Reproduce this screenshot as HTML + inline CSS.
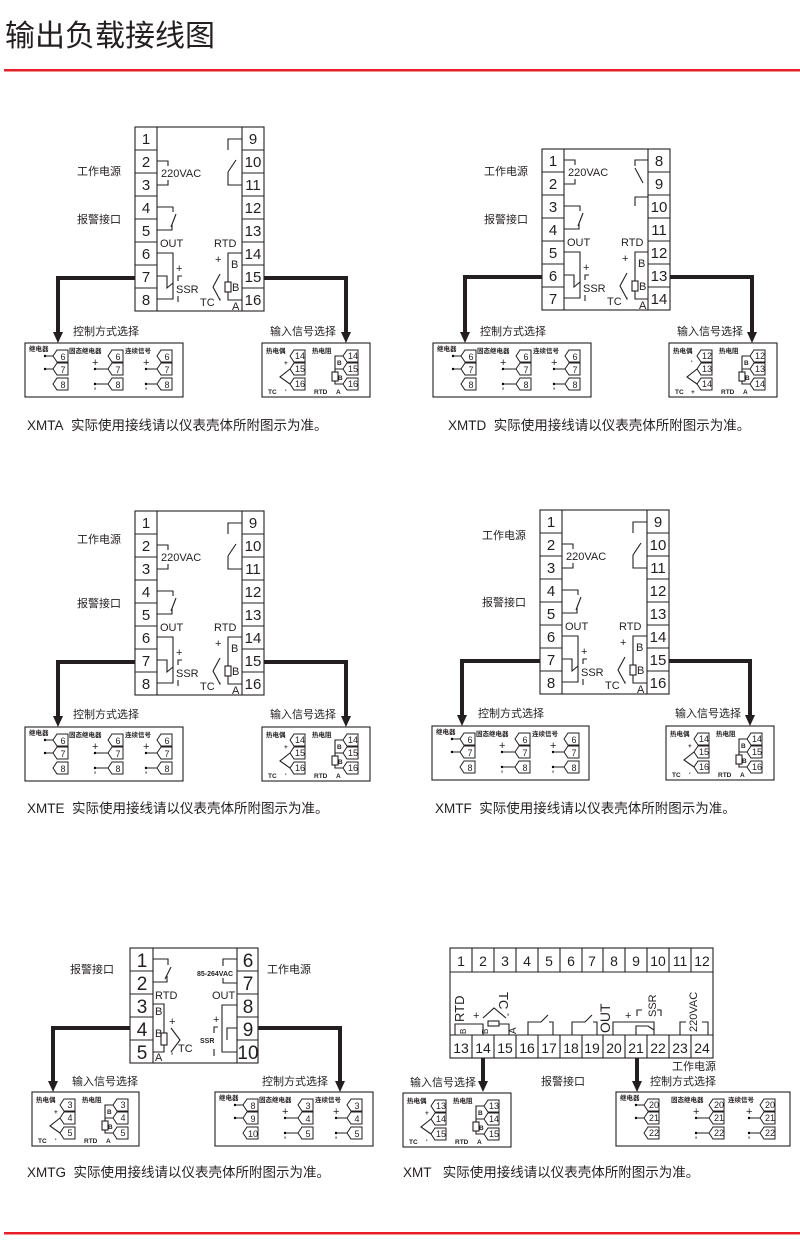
<!DOCTYPE html>
<html><head><meta charset="utf-8"><style>
html,body{margin:0;padding:0;background:#fff;}
svg{display:block;}
text{font-family:"Liberation Sans","Noto Sans CJK SC",sans-serif;fill:#231f20;}
.n{font-size:15px;text-anchor:middle;}
.nb{font-size:19px;text-anchor:middle;}
.l{font-size:11px;}
.c{font-size:11px;font-weight:bold;}
.s{font-size:6.5px;font-weight:bold;}
.t{font-size:9px;text-anchor:middle;}
.cap{font-size:13.5px;}
.w{fill:none;stroke:#231f20;stroke-width:1.1;}
.k{fill:none;stroke:#231f20;stroke-width:4;}
.b{fill:#fff;stroke:#231f20;stroke-width:1.1;}
</style></head><body>
<svg width="800" height="1247" viewBox="0 0 800 1247" xmlns="http://www.w3.org/2000/svg">
<defs>
<polygon id="tag" points="0,0 4,-6 15,-6 15,6 4,6" fill="#fff" stroke="#231f20" stroke-width="1"/>
<polygon id="arr" points="-5,-11 5,-11 0,0" fill="#231f20"/>
</defs>
<text x="5" y="46" style="font-size:30px">输出负载接线图</text>
<rect x="4" y="69" width="796" height="2.5" fill="#e8202a"/>
<rect x="4" y="1232" width="796" height="2.5" fill="#e8202a"/>

<!-- ===== PANEL A (XMTA) ===== -->
<g id="pA">
<rect class="w" x="135" y="127" width="129" height="184"/>
<path class="w" d="M157,127V311M242,127V311M135,150H157M135,173H157M135,196H157M135,219H157M135,242H157M135,265H157M135,288H157M242,150H264M242,173H264M242,196H264M242,219H264M242,242H264M242,265H264M242,288H264"/>
<text class="n" x="146" y="144">1</text><text class="n" x="146" y="167">2</text><text class="n" x="146" y="190">3</text><text class="n" x="146" y="213">4</text><text class="n" x="146" y="236">5</text><text class="n" x="146" y="259">6</text><text class="n" x="146" y="282">7</text><text class="n" x="146" y="305">8</text>
<text class="n" x="253" y="144">9</text><text class="n" x="253" y="167">10</text><text class="n" x="253" y="190">11</text><text class="n" x="253" y="213">12</text><text class="n" x="253" y="236">13</text><text class="n" x="253" y="259">14</text><text class="n" x="253" y="282">15</text><text class="n" x="253" y="305">16</text>
<path class="w" d="M157,161H168V166M168,180V185H157"/>
<text class="l" x="161" y="177">220VAC</text>
<path class="w" d="M157,207H173V212M176,214L171,227M157,230H172V224"/>
<text class="l" x="160" y="247">OUT</text>
<path class="w" d="M157,253H173V299H157M157,276H167V288L173,283"/>
<text class="l" x="176" y="272">+</text>
<path class="w" d="M182,276H178V281M178,296V302"/>
<text class="l" x="176" y="293">SSR</text>
<path class="w" d="M242,139H228V150M228,172L236,160M228,172V185H242"/>
<text class="l" x="214" y="247">RTD</text>
<path class="w" d="M242,253H228V300H242"/>
<rect class="b" x="225" y="282" width="6" height="10"/>
<text class="l" x="231" y="268">B</text><text class="l" x="232" y="291">B</text><text class="l" x="232" y="310">A</text>
<text class="l" x="215" y="263">+</text>
<path class="w" d="M220,274L213,287L220,300"/>
<text class="l" x="200" y="306">TC</text><text class="l" x="219" y="306">'</text>
</g>
<path class="k" d="M135,278H58V335M264,278H346V335"/>
<use href="#arr" x="58" y="343"/><use href="#arr" x="346" y="343"/>
<text class="l" x="77" y="175">工作电源</text><text class="l" x="77" y="223">报警接口</text>
<text class="l" x="73" y="335">控制方式选择</text><text class="l" x="270" y="335">输入信号选择</text>
<g transform="translate(25,343)">
<rect class="w" x="0" y="0" width="158" height="54"/>
<text class="s" x="4" y="8">继电器</text><text class="s" x="44" y="10">固态继电器</text><text class="s" x="100" y="10">连续信号</text>
<path class="w" d="M20,13H28M20,26H28M70,26H83M70,41H83M121,26H132M121,41H132"/>
<circle cx="20" cy="13" r="1.2"/><circle cx="20" cy="26" r="1.2"/><circle cx="70" cy="26" r="1.2"/><circle cx="70" cy="41" r="1.2"/><circle cx="121" cy="26" r="1.2"/><circle cx="121" cy="41" r="1.2"/>
<text class="l" x="67" y="23">+</text><text class="l" x="118" y="23">+</text><text class="l" x="69" y="52">'</text><text class="l" x="120" y="52">'</text>
<use href="#tag" x="28" y="13"/><use href="#tag" x="28" y="26"/><use href="#tag" x="28" y="41"/>
<use href="#tag" x="83" y="13"/><use href="#tag" x="83" y="26"/><use href="#tag" x="83" y="41"/>
<use href="#tag" x="132" y="13"/><use href="#tag" x="132" y="26"/><use href="#tag" x="132" y="41"/>
<text class="t" x="38" y="17">6</text><text class="t" x="38" y="30">7</text><text class="t" x="38" y="45">8</text>
<text class="t" x="93" y="17">6</text><text class="t" x="93" y="30">7</text><text class="t" x="93" y="45">8</text>
<text class="t" x="142" y="17">6</text><text class="t" x="142" y="30">7</text><text class="t" x="142" y="45">8</text>
</g>
<g transform="translate(262,343)">
<rect class="w" x="0" y="0" width="108" height="54"/>
<text class="s" x="4" y="10">热电偶</text><text class="s" x="50" y="10">热电阻</text>
<path class="w" d="M28,26L18,34L28,41M81,13H73V41H81M73,26H81"/>
<rect class="b" x="70" y="29" width="6" height="9"/>
<text class="s" x="22" y="22">+</text><text class="s" x="6" y="51">TC</text><text class="s" x="23" y="51">'</text>
<text class="s" x="75" y="22">B</text><text class="s" x="76" y="37">B</text><text class="s" x="52" y="51">RTD</text><text class="s" x="74" y="51">A</text>
<use href="#tag" x="28" y="13"/><use href="#tag" x="28" y="26"/><use href="#tag" x="28" y="41"/>
<use href="#tag" x="81" y="13"/><use href="#tag" x="81" y="26"/><use href="#tag" x="81" y="41"/>
<text class="t" x="38" y="16">14</text><text class="t" x="38" y="29">15</text><text class="t" x="38" y="44">16</text>
<text class="t" x="91" y="16">14</text><text class="t" x="91" y="29">15</text><text class="t" x="91" y="44">16</text>
</g>
<text class="cap" x="27" y="430">XMTA&#160;&#160;实际使用接线请以仪表壳体所附图示为准。</text>

<!-- ===== PANEL B (XMTD) ===== -->
<rect class="w" x="542" y="149" width="128" height="161"/>
<path class="w" d="M564,149V310M648,149V310M542,172H564M542,195H564M542,218H564M542,241H564M542,264H564M542,287H564M648,172H670M648,195H670M648,218H670M648,241H670M648,264H670M648,287H670"/>
<text class="n" x="553" y="166">1</text><text class="n" x="553" y="189">2</text><text class="n" x="553" y="212">3</text><text class="n" x="553" y="235">4</text><text class="n" x="553" y="258">5</text><text class="n" x="553" y="281">6</text><text class="n" x="553" y="304">7</text>
<text class="n" x="659" y="166">8</text><text class="n" x="659" y="189">9</text><text class="n" x="659" y="212">10</text><text class="n" x="659" y="235">11</text><text class="n" x="659" y="258">12</text><text class="n" x="659" y="281">13</text><text class="n" x="659" y="304">14</text>
<g transform="translate(407,-1)">
<path class="w" d="M157,161H168V166M168,180V185H157"/>
<text class="l" x="161" y="177">220VAC</text>
<path class="w" d="M157,207H173V212M176,214L171,227M157,230H172V224"/>
<text class="l" x="160" y="247">OUT</text>
<path class="w" d="M157,253H173V299H157M157,276H167V288L173,283"/>
<text class="l" x="176" y="272">+</text>
<path class="w" d="M182,276H178V281M178,296V302"/>
<text class="l" x="176" y="293">SSR</text>
<text class="l" x="214" y="247">RTD</text>
<path class="w" d="M241,253H228V300H241"/>
<rect class="b" x="225" y="282" width="6" height="10"/>
<text class="l" x="231" y="268">B</text><text class="l" x="232" y="291">B</text><text class="l" x="232" y="310">A</text>
<text class="l" x="215" y="263">+</text>
<path class="w" d="M220,274L213,287L220,300"/>
<text class="l" x="200" y="306">TC</text><text class="l" x="219" y="306">'</text>
</g>
<path class="w" d="M648,160H635V166M635,168L643,183M648,197H635V206"/>
<path class="k" d="M542,277H465V335M670,277H752V335"/>
<use href="#arr" x="465" y="343"/><use href="#arr" x="752" y="343"/>
<text class="l" x="484" y="175">工作电源</text><text class="l" x="484" y="223">报警接口</text>
<text class="l" x="480" y="335">控制方式选择</text><text class="l" x="677" y="335">输入信号选择</text>
<g transform="translate(433,343)">
<rect class="w" x="0" y="0" width="158" height="54"/>
<text class="s" x="4" y="8">继电器</text><text class="s" x="44" y="10">固态继电器</text><text class="s" x="100" y="10">连续信号</text>
<path class="w" d="M20,13H28M20,26H28M70,26H83M70,41H83M121,26H132M121,41H132"/>
<circle cx="20" cy="13" r="1.2"/><circle cx="20" cy="26" r="1.2"/><circle cx="70" cy="26" r="1.2"/><circle cx="70" cy="41" r="1.2"/><circle cx="121" cy="26" r="1.2"/><circle cx="121" cy="41" r="1.2"/>
<text class="l" x="67" y="23">+</text><text class="l" x="118" y="23">+</text><text class="l" x="69" y="52">'</text><text class="l" x="120" y="52">'</text>
<use href="#tag" x="28" y="13"/><use href="#tag" x="28" y="26"/><use href="#tag" x="28" y="41"/>
<use href="#tag" x="83" y="13"/><use href="#tag" x="83" y="26"/><use href="#tag" x="83" y="41"/>
<use href="#tag" x="132" y="13"/><use href="#tag" x="132" y="26"/><use href="#tag" x="132" y="41"/>
<text class="t" x="38" y="17">6</text><text class="t" x="38" y="30">7</text><text class="t" x="38" y="45">8</text>
<text class="t" x="93" y="17">6</text><text class="t" x="93" y="30">7</text><text class="t" x="93" y="45">8</text>
<text class="t" x="142" y="17">6</text><text class="t" x="142" y="30">7</text><text class="t" x="142" y="45">8</text>
</g>
<g transform="translate(669,343)">
<rect class="w" x="0" y="0" width="108" height="54"/>
<text class="s" x="4" y="10">热电偶</text><text class="s" x="50" y="10">热电阻</text>
<path class="w" d="M28,26L18,34L28,41M81,13H73V41H81M73,26H81"/>
<rect class="b" x="70" y="29" width="6" height="9"/>
<text class="s" x="22" y="22">'</text><text class="s" x="6" y="51">TC</text><text class="s" x="22" y="51">+</text>
<text class="s" x="75" y="22">B</text><text class="s" x="76" y="37">B</text><text class="s" x="52" y="51">RTD</text><text class="s" x="74" y="51">A</text>
<use href="#tag" x="28" y="13"/><use href="#tag" x="28" y="26"/><use href="#tag" x="28" y="41"/>
<use href="#tag" x="81" y="13"/><use href="#tag" x="81" y="26"/><use href="#tag" x="81" y="41"/>
<text class="t" x="38" y="16">12</text><text class="t" x="38" y="29">13</text><text class="t" x="38" y="44">14</text>
<text class="t" x="91" y="16">12</text><text class="t" x="91" y="29">13</text><text class="t" x="91" y="44">14</text>
</g>
<text class="cap" x="448" y="430">XMTD&#160;&#160;实际使用接线请以仪表壳体所附图示为准。</text>

<!-- ===== PANEL C (XMTE) ===== -->
<g transform="translate(0,384)">
<rect class="w" x="135" y="127" width="129" height="184"/>
<path class="w" d="M157,127V311M242,127V311M135,150H157M135,173H157M135,196H157M135,219H157M135,242H157M135,265H157M135,288H157M242,150H264M242,173H264M242,196H264M242,219H264M242,242H264M242,265H264M242,288H264"/>
<text class="n" x="146" y="144">1</text><text class="n" x="146" y="167">2</text><text class="n" x="146" y="190">3</text><text class="n" x="146" y="213">4</text><text class="n" x="146" y="236">5</text><text class="n" x="146" y="259">6</text><text class="n" x="146" y="282">7</text><text class="n" x="146" y="305">8</text>
<text class="n" x="253" y="144">9</text><text class="n" x="253" y="167">10</text><text class="n" x="253" y="190">11</text><text class="n" x="253" y="213">12</text><text class="n" x="253" y="236">13</text><text class="n" x="253" y="259">14</text><text class="n" x="253" y="282">15</text><text class="n" x="253" y="305">16</text>
<path class="w" d="M157,161H168V166M168,180V185H157"/>
<text class="l" x="161" y="177">220VAC</text>
<path class="w" d="M157,207H173V212M176,214L171,227M157,230H172V224"/>
<text class="l" x="160" y="247">OUT</text>
<path class="w" d="M157,253H173V299H157M157,276H167V288L173,283"/>
<text class="l" x="176" y="272">+</text>
<path class="w" d="M182,276H178V281M178,296V302"/>
<text class="l" x="176" y="293">SSR</text>
<path class="w" d="M242,139H228V150M228,172L236,160M228,172V185H242"/>
<text class="l" x="214" y="247">RTD</text>
<path class="w" d="M242,253H228V300H242"/>
<rect class="b" x="225" y="282" width="6" height="10"/>
<text class="l" x="231" y="268">B</text><text class="l" x="232" y="291">B</text><text class="l" x="232" y="310">A</text>
<text class="l" x="215" y="263">+</text>
<path class="w" d="M220,274L213,287L220,300"/>
<text class="l" x="200" y="306">TC</text><text class="l" x="219" y="306">'</text>
<path class="k" d="M135,278H58V335M264,278H346V335"/>
<use href="#arr" x="58" y="343"/><use href="#arr" x="346" y="343"/>
<text class="l" x="77" y="159">工作电源</text><text class="l" x="77" y="223">报警接口</text>
<text class="l" x="73" y="334">控制方式选择</text><text class="l" x="270" y="334">输入信号选择</text>
<g transform="translate(25,343)">
<rect class="w" x="0" y="0" width="158" height="54"/>
<text class="s" x="4" y="8">继电器</text><text class="s" x="44" y="10">固态继电器</text><text class="s" x="100" y="10">连续信号</text>
<path class="w" d="M20,13H28M20,26H28M70,26H83M70,41H83M121,26H132M121,41H132"/>
<circle cx="20" cy="13" r="1.2"/><circle cx="20" cy="26" r="1.2"/><circle cx="70" cy="26" r="1.2"/><circle cx="70" cy="41" r="1.2"/><circle cx="121" cy="26" r="1.2"/><circle cx="121" cy="41" r="1.2"/>
<text class="l" x="67" y="23">+</text><text class="l" x="118" y="23">+</text><text class="l" x="69" y="52">'</text><text class="l" x="120" y="52">'</text>
<use href="#tag" x="28" y="13"/><use href="#tag" x="28" y="26"/><use href="#tag" x="28" y="41"/>
<use href="#tag" x="83" y="13"/><use href="#tag" x="83" y="26"/><use href="#tag" x="83" y="41"/>
<use href="#tag" x="132" y="13"/><use href="#tag" x="132" y="26"/><use href="#tag" x="132" y="41"/>
<text class="t" x="38" y="17">6</text><text class="t" x="38" y="30">7</text><text class="t" x="38" y="45">8</text>
<text class="t" x="93" y="17">6</text><text class="t" x="93" y="30">7</text><text class="t" x="93" y="45">8</text>
<text class="t" x="142" y="17">6</text><text class="t" x="142" y="30">7</text><text class="t" x="142" y="45">8</text>
</g>
<g transform="translate(262,343)">
<rect class="w" x="0" y="0" width="108" height="54"/>
<text class="s" x="4" y="10">热电偶</text><text class="s" x="50" y="10">热电阻</text>
<path class="w" d="M28,26L18,34L28,41M81,13H73V41H81M73,26H81"/>
<rect class="b" x="70" y="29" width="6" height="9"/>
<text class="s" x="22" y="22">+</text><text class="s" x="6" y="51">TC</text><text class="s" x="23" y="51">'</text>
<text class="s" x="75" y="22">B</text><text class="s" x="76" y="37">B</text><text class="s" x="52" y="51">RTD</text><text class="s" x="74" y="51">A</text>
<use href="#tag" x="28" y="13"/><use href="#tag" x="28" y="26"/><use href="#tag" x="28" y="41"/>
<use href="#tag" x="81" y="13"/><use href="#tag" x="81" y="26"/><use href="#tag" x="81" y="41"/>
<text class="t" x="38" y="16">14</text><text class="t" x="38" y="29">15</text><text class="t" x="38" y="44">16</text>
<text class="t" x="91" y="16">14</text><text class="t" x="91" y="29">15</text><text class="t" x="91" y="44">16</text>
</g>
<text class="cap" x="27" y="429">XMTE&#160;&#160;实际使用接线请以仪表壳体所附图示为准。</text>
</g>

<!-- ===== PANEL D (XMTF) ===== -->
<g transform="translate(405,383)">
<rect class="w" x="135" y="127" width="129" height="184"/>
<path class="w" d="M157,127V311M242,127V311M135,150H157M135,173H157M135,196H157M135,219H157M135,242H157M135,265H157M135,288H157M242,150H264M242,173H264M242,196H264M242,219H264M242,242H264M242,265H264M242,288H264"/>
<text class="n" x="146" y="144">1</text><text class="n" x="146" y="167">2</text><text class="n" x="146" y="190">3</text><text class="n" x="146" y="213">4</text><text class="n" x="146" y="236">5</text><text class="n" x="146" y="259">6</text><text class="n" x="146" y="282">7</text><text class="n" x="146" y="305">8</text>
<text class="n" x="253" y="144">9</text><text class="n" x="253" y="167">10</text><text class="n" x="253" y="190">11</text><text class="n" x="253" y="213">12</text><text class="n" x="253" y="236">13</text><text class="n" x="253" y="259">14</text><text class="n" x="253" y="282">15</text><text class="n" x="253" y="305">16</text>
<path class="w" d="M157,161H168V166M168,180V185H157"/>
<text class="l" x="161" y="177">220VAC</text>
<path class="w" d="M157,207H173V212M176,214L171,227M157,230H172V224"/>
<text class="l" x="160" y="247">OUT</text>
<path class="w" d="M157,253H173V299H157M157,276H167V288L173,283"/>
<text class="l" x="176" y="272">+</text>
<path class="w" d="M182,276H178V281M178,296V302"/>
<text class="l" x="176" y="293">SSR</text>
<path class="w" d="M242,139H228V150M228,172L236,160M228,172V185H242"/>
<text class="l" x="214" y="247">RTD</text>
<path class="w" d="M242,253H228V300H242"/>
<rect class="b" x="225" y="282" width="6" height="10"/>
<text class="l" x="231" y="268">B</text><text class="l" x="232" y="291">B</text><text class="l" x="232" y="310">A</text>
<text class="l" x="215" y="263">+</text>
<path class="w" d="M220,274L213,287L220,300"/>
<text class="l" x="200" y="306">TC</text><text class="l" x="219" y="306">'</text>
<path class="k" d="M135,278H57V335M264,278H345V335"/>
<use href="#arr" x="57" y="343"/><use href="#arr" x="345" y="343"/>
<text class="l" x="77" y="156">工作电源</text><text class="l" x="77" y="223">报警接口</text>
<text class="l" x="73" y="334">控制方式选择</text><text class="l" x="270" y="334">输入信号选择</text>
<g transform="translate(27,343)">
<rect class="w" x="0" y="0" width="157" height="54"/>
<text class="s" x="4" y="8">继电器</text><text class="s" x="44" y="10">固态继电器</text><text class="s" x="100" y="10">连续信号</text>
<path class="w" d="M20,13H28M20,26H28M70,26H83M70,41H83M121,26H132M121,41H132"/>
<circle cx="20" cy="13" r="1.2"/><circle cx="20" cy="26" r="1.2"/><circle cx="70" cy="26" r="1.2"/><circle cx="70" cy="41" r="1.2"/><circle cx="121" cy="26" r="1.2"/><circle cx="121" cy="41" r="1.2"/>
<text class="l" x="67" y="23">+</text><text class="l" x="118" y="23">+</text><text class="l" x="69" y="52">'</text><text class="l" x="120" y="52">'</text>
<use href="#tag" x="28" y="13"/><use href="#tag" x="28" y="26"/><use href="#tag" x="28" y="41"/>
<use href="#tag" x="83" y="13"/><use href="#tag" x="83" y="26"/><use href="#tag" x="83" y="41"/>
<use href="#tag" x="132" y="13"/><use href="#tag" x="132" y="26"/><use href="#tag" x="132" y="41"/>
<text class="t" x="38" y="17">6</text><text class="t" x="38" y="30">7</text><text class="t" x="38" y="45">8</text>
<text class="t" x="93" y="17">6</text><text class="t" x="93" y="30">7</text><text class="t" x="93" y="45">8</text>
<text class="t" x="142" y="17">6</text><text class="t" x="142" y="30">7</text><text class="t" x="142" y="45">8</text>
</g>
<g transform="translate(261,343)">
<rect class="w" x="0" y="0" width="108" height="54"/>
<text class="s" x="4" y="10">热电偶</text><text class="s" x="50" y="10">热电阻</text>
<path class="w" d="M28,26L18,34L28,41M81,13H73V41H81M73,26H81"/>
<rect class="b" x="70" y="29" width="6" height="9"/>
<text class="s" x="22" y="22">+</text><text class="s" x="6" y="51">TC</text><text class="s" x="23" y="51">'</text>
<text class="s" x="75" y="22">B</text><text class="s" x="76" y="37">B</text><text class="s" x="52" y="51">RTD</text><text class="s" x="74" y="51">A</text>
<use href="#tag" x="28" y="13"/><use href="#tag" x="28" y="26"/><use href="#tag" x="28" y="41"/>
<use href="#tag" x="81" y="13"/><use href="#tag" x="81" y="26"/><use href="#tag" x="81" y="41"/>
<text class="t" x="38" y="16">14</text><text class="t" x="38" y="29">15</text><text class="t" x="38" y="44">16</text>
<text class="t" x="91" y="16">14</text><text class="t" x="91" y="29">15</text><text class="t" x="91" y="44">16</text>
</g>
<text class="cap" x="30" y="430">XMTF&#160;&#160;实际使用接线请以仪表壳体所附图示为准。</text>
</g>

<!-- ===== PANEL E (XMTG) ===== -->
<rect class="w" x="130" y="948" width="128" height="115"/>
<path class="w" d="M153,948V1063M237,948V1063M130,971H153M130,994H153M130,1017H153M130,1040H153M237,971H258M237,994H258M237,1017H258M237,1040H258"/>
<text class="nb" x="142" y="967">1</text><text class="nb" x="142" y="990">2</text><text class="nb" x="142" y="1013">3</text><text class="nb" x="142" y="1036">4</text><text class="nb" x="142" y="1059">5</text>
<text class="nb" x="248" y="967">6</text><text class="nb" x="248" y="990">7</text><text class="nb" x="248" y="1013">8</text><text class="nb" x="248" y="1036">9</text><text class="nb" x="248" y="1059">10</text>
<path class="w" d="M153,959H168V965M171,967L165,979M153,982H167V976"/>
<text class="l" x="155" y="999">RTD</text>
<path class="w" d="M153,1004H164V1052H153"/>
<rect class="b" x="161" y="1033" width="6" height="12"/>
<text class="l" x="155" y="1015">B</text><text class="l" x="155" y="1037">B</text><text class="l" x="155" y="1061">A</text>
<text class="l" x="169" y="1025">+</text>
<path class="w" d="M171,1028L180,1040L171,1052"/>
<text class="l" x="178" y="1052">TC</text><text class="l" x="171" y="1060">'</text>
<text class="s" x="197" y="976" style="font-size:7px">85-264VAC</text>
<path class="w" d="M237,959H223V966M223,978V983H237"/>
<text class="l" x="212" y="999">OUT</text>
<path class="w" d="M237,1005H222V1052H237M237,1028H227V1040"/>
<text class="l" x="213" y="1023">+</text>
<path class="w" d="M218,1027H214V1033M214,1049V1056"/>
<text class="s" x="200" y="1043" style="font-size:7px">SSR</text>
<path class="k" d="M130,1028H53V1082M258,1028H340V1082"/>
<use href="#arr" x="53" y="1092"/><use href="#arr" x="340" y="1092"/>
<text class="l" x="70" y="973">报警接口</text><text class="l" x="267" y="973">工作电源</text>
<text class="l" x="72" y="1085">输入信号选择</text><text class="l" x="262" y="1085">控制方式选择</text>
<g transform="translate(32,1092)">
<rect class="w" x="0" y="0" width="107" height="54"/>
<text class="s" x="4" y="10">热电偶</text><text class="s" x="50" y="10">热电阻</text>
<path class="w" d="M28,26L18,34L28,41M81,13H73V41H81M73,26H81"/>
<rect class="b" x="70" y="29" width="6" height="9"/>
<text class="s" x="22" y="22">+</text><text class="s" x="6" y="51">TC</text><text class="s" x="23" y="51">'</text>
<text class="s" x="75" y="22">B</text><text class="s" x="76" y="37">B</text><text class="s" x="52" y="51">RTD</text><text class="s" x="74" y="51">A</text>
<use href="#tag" x="28" y="13"/><use href="#tag" x="28" y="26"/><use href="#tag" x="28" y="41"/>
<use href="#tag" x="81" y="13"/><use href="#tag" x="81" y="26"/><use href="#tag" x="81" y="41"/>
<text class="t" x="38" y="16">3</text><text class="t" x="38" y="29">4</text><text class="t" x="38" y="44">5</text>
<text class="t" x="91" y="16">3</text><text class="t" x="91" y="29">4</text><text class="t" x="91" y="44">5</text>
</g>
<g transform="translate(215,1092)">
<rect class="w" x="0" y="0" width="158" height="54"/>
<text class="s" x="4" y="8">继电器</text><text class="s" x="44" y="10">固态继电器</text><text class="s" x="100" y="10">连续信号</text>
<path class="w" d="M20,13H28M20,26H28M70,26H83M70,41H83M121,26H132M121,41H132"/>
<circle cx="20" cy="13" r="1.2"/><circle cx="20" cy="26" r="1.2"/><circle cx="70" cy="26" r="1.2"/><circle cx="70" cy="41" r="1.2"/><circle cx="121" cy="26" r="1.2"/><circle cx="121" cy="41" r="1.2"/>
<text class="l" x="67" y="23">+</text><text class="l" x="118" y="23">+</text><text class="l" x="69" y="52">'</text><text class="l" x="120" y="52">'</text>
<use href="#tag" x="28" y="13"/><use href="#tag" x="28" y="26"/><use href="#tag" x="28" y="41"/>
<use href="#tag" x="83" y="13"/><use href="#tag" x="83" y="26"/><use href="#tag" x="83" y="41"/>
<use href="#tag" x="132" y="13"/><use href="#tag" x="132" y="26"/><use href="#tag" x="132" y="41"/>
<text class="t" x="38" y="17">8</text><text class="t" x="38" y="30">9</text><text class="t" x="38" y="45">10</text>
<text class="t" x="93" y="17">3</text><text class="t" x="93" y="30">4</text><text class="t" x="93" y="45">5</text>
<text class="t" x="142" y="17">3</text><text class="t" x="142" y="30">4</text><text class="t" x="142" y="45">5</text>
</g>
<text class="cap" x="27" y="1177">XMTG&#160;&#160;实际使用接线请以仪表壳体所附图示为准。</text>

<!-- ===== PANEL F (XMT) ===== -->
<rect class="w" x="450" y="948" width="263" height="110"/>
<path class="w" d="M450,972H713M450,1035H713M472,948V972M494,948V972M516,948V972M538,948V972M560,948V972M582,948V972M603,948V972M625,948V972M647,948V972M669,948V972M691,948V972M472,1035V1058M494,1035V1058M516,1035V1058M538,1035V1058M560,1035V1058M582,1035V1058M603,1035V1058M625,1035V1058M647,1035V1058M669,1035V1058M691,1035V1058"/>
<g class="n" style="font-size:14px">
<text class="n" style="font-size:14px" x="461" y="966">1</text><text class="n" style="font-size:14px" x="483" y="966">2</text><text class="n" style="font-size:14px" x="505" y="966">3</text><text class="n" style="font-size:14px" x="527" y="966">4</text><text class="n" style="font-size:14px" x="549" y="966">5</text><text class="n" style="font-size:14px" x="571" y="966">6</text><text class="n" style="font-size:14px" x="592" y="966">7</text><text class="n" style="font-size:14px" x="614" y="966">8</text><text class="n" style="font-size:14px" x="636" y="966">9</text><text class="n" style="font-size:14px" x="658" y="966">10</text><text class="n" style="font-size:14px" x="680" y="966">11</text><text class="n" style="font-size:14px" x="702" y="966">12</text>
<text class="n" style="font-size:14px" x="461" y="1053">13</text><text class="n" style="font-size:14px" x="483" y="1053">14</text><text class="n" style="font-size:14px" x="505" y="1053">15</text><text class="n" style="font-size:14px" x="527" y="1053">16</text><text class="n" style="font-size:14px" x="549" y="1053">17</text><text class="n" style="font-size:14px" x="571" y="1053">18</text><text class="n" style="font-size:14px" x="592" y="1053">19</text><text class="n" style="font-size:14px" x="614" y="1053">20</text><text class="n" style="font-size:14px" x="636" y="1053">21</text><text class="n" style="font-size:14px" x="658" y="1053">22</text><text class="n" style="font-size:14px" x="680" y="1053">23</text><text class="n" style="font-size:14px" x="702" y="1053">24</text>
</g>
<text class="l" style="font-size:13px" transform="translate(464,1022) rotate(-90)">RTD</text>
<path class="w" d="M455,1035V1024H483V1035M497,1024H509V1035"/>
<rect class="b" x="488" y="1021" width="11" height="5"/>
<text class="l" style="font-size:8px" transform="translate(466,1034) rotate(-90)">B</text>
<text class="l" style="font-size:8px" transform="translate(488,1034) rotate(-90)">B</text>
<text class="l" style="font-size:10px" transform="translate(516,1034) rotate(-90)">A</text>
<text class="l" x="473" y="1019">+</text>
<path class="w" d="M483,1018L494,1008L506,1018"/>
<text class="l" style="font-size:13px" transform="translate(499,992) rotate(90)">TC</text>
<text class="l" x="507" y="1021">'</text>
<path class="w" d="M528,1035V1022H541L548,1015M549,1022H553V1035"/>
<path class="w" d="M572,1035V1022H585L592,1015M593,1022H597V1035"/>
<text class="l" style="font-size:14px" transform="translate(610,1033) rotate(-90)">OUT</text>
<path class="w" d="M613,1035V1022H654V1035M636,1035V1026H648L654,1030"/>
<text class="l" x="625" y="1019">+</text>
<path class="w" d="M637,1016V1010H642M657,1010H661V1016"/>
<text class="l" style="font-size:11px" transform="translate(656,1017) rotate(-90)">SSR</text>
<path class="w" d="M680,1035V1022H686M702,1022H708V1035"/>
<text class="l" style="font-size:11px" transform="translate(697,1032) rotate(-90)">220VAC</text>
<path class="k" d="M483,1058V1082M637,1058V1082"/>
<use href="#arr" x="483" y="1092"/><use href="#arr" x="637" y="1092"/>
<text class="l" x="672" y="1070">工作电源</text>
<text class="l" x="410" y="1086">输入信号选择</text><text class="l" x="541" y="1085">报警接口</text><text class="l" x="650" y="1085">控制方式选择</text>
<g transform="translate(403,1093)">
<rect class="w" x="0" y="0" width="108" height="54"/>
<text class="s" x="4" y="10">热电偶</text><text class="s" x="50" y="10">热电阻</text>
<path class="w" d="M28,26L18,34L28,41M81,13H73V41H81M73,26H81"/>
<rect class="b" x="70" y="29" width="6" height="9"/>
<text class="s" x="22" y="22">+</text><text class="s" x="6" y="51">TC</text><text class="s" x="23" y="51">'</text>
<text class="s" x="75" y="22">B</text><text class="s" x="76" y="37">B</text><text class="s" x="52" y="51">RTD</text><text class="s" x="74" y="51">A</text>
<use href="#tag" x="28" y="13"/><use href="#tag" x="28" y="26"/><use href="#tag" x="28" y="41"/>
<use href="#tag" x="81" y="13"/><use href="#tag" x="81" y="26"/><use href="#tag" x="81" y="41"/>
<text class="t" x="38" y="16">13</text><text class="t" x="38" y="29">14</text><text class="t" x="38" y="44">15</text>
<text class="t" x="91" y="16">13</text><text class="t" x="91" y="29">14</text><text class="t" x="91" y="44">15</text>
</g>
<g transform="translate(616,1092)">
<rect class="w" x="0" y="0" width="174" height="54"/>
<text class="s" x="4" y="8">继电器</text><text class="s" x="55" y="10">固态继电器</text><text class="s" x="112" y="10">连续信号</text>
<path class="w" d="M20,13H28M20,26H28M80,26H93M80,41H93M133,26H144M133,41H144"/>
<circle cx="20" cy="13" r="1.2"/><circle cx="20" cy="26" r="1.2"/><circle cx="80" cy="26" r="1.2"/><circle cx="80" cy="41" r="1.2"/><circle cx="133" cy="26" r="1.2"/><circle cx="133" cy="41" r="1.2"/>
<text class="l" x="77" y="23">+</text><text class="l" x="130" y="23">+</text><text class="l" x="79" y="52">'</text><text class="l" x="132" y="52">'</text>
<use href="#tag" x="28" y="13"/><use href="#tag" x="28" y="26"/><use href="#tag" x="28" y="41"/>
<use href="#tag" x="93" y="13"/><use href="#tag" x="93" y="26"/><use href="#tag" x="93" y="41"/>
<use href="#tag" x="144" y="13"/><use href="#tag" x="144" y="26"/><use href="#tag" x="144" y="41"/>
<text class="t" x="38" y="16">20</text><text class="t" x="38" y="29">21</text><text class="t" x="38" y="44">22</text>
<text class="t" x="103" y="16">20</text><text class="t" x="103" y="29">21</text><text class="t" x="103" y="44">22</text>
<text class="t" x="154" y="16">20</text><text class="t" x="154" y="29">21</text><text class="t" x="154" y="44">22</text>
</g>
<text class="cap" x="403" y="1177">XMT&#160;&#160;&#160;实际使用接线请以仪表壳体所附图示为准。</text>
</svg>
</body></html>
